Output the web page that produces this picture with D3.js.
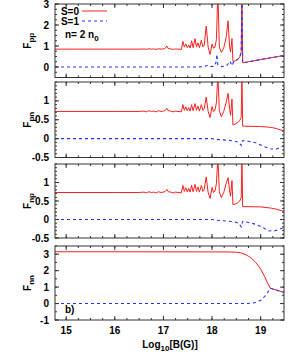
<!DOCTYPE html>
<html>
<head>
<meta charset="utf-8">
<script src="https://d3js.org/d3.v7.min.js"></script>
<style>
  body { margin: 0; background: #fff; }
  text { font-family: "Liberation Sans", Arial, sans-serif; font-weight: bold; font-size: 10px; fill: #000; }
</style>
</head>
<body>
<div id="chart"></div>
<script>

// ---- data ----
var xDomain = [14.77, 19.48];
var xTicks = [15, 16, 17, 18, 19];

// F_pp
var ppDomain = [-0.5, 3];
var ppTicks = [0, 1, 2, 3];
var ppS0 = [[14.77,0.85],[16.0,0.85],[16.5,0.85],[16.6,0.86],[16.65,0.84],[16.7,0.87],[16.75,0.85],[16.8,0.86],[16.85,0.84],[16.9,0.87],
  [16.95,0.85],[17.0,0.86],[17.04,0.9],[17.07,1.0],[17.1,0.88],[17.15,0.86],[17.2,0.84],[17.25,0.86],[17.3,0.85],[17.37,0.84],
  [17.4,1.22],[17.43,0.95],[17.46,1.1],[17.49,0.92],[17.52,1.05],[17.55,0.9],[17.58,1.25],[17.61,0.92],[17.65,1.35],[17.68,0.95],
  [17.71,1.15],[17.74,0.92],[17.78,1.28],[17.81,0.95],[17.84,1.05],[17.88,1.95],[17.92,0.95],[17.96,0.6],[18.0,1.1],[18.03,0.9],
  [18.06,0.95],[18.09,1.3],[18.12,3.6],[18.15,0.95],[18.19,0.7],[18.24,0.9],[18.29,1.4],[18.33,2.2],[18.36,1.0],[18.38,0.72],
  [18.41,1.35],[18.43,0.26],[18.48,0.3],[18.53,0.36],[18.57,0.48],[18.6,0.7],[18.615,3.6],[18.63,0.2],[19.48,0.55]];
var ppS1 = [[14.77,0],[17.7,0],[17.85,0.02],[17.9,0.08],[17.94,0.02],[18.04,0.03],[18.08,0.2],[18.1,0.6],[18.12,0.1],[18.2,0.02],
  [18.3,0.06],[18.37,0.28],[18.41,0.06],[18.45,0.27],[18.48,0.3],[18.53,0.36],[18.57,0.48],[18.6,0.7],[18.615,3.6],[18.63,0.2],[19.48,0.55]];

// F_pn
var pnDomain = [-0.5, 1.5];
var pnTicks = [-0.5, 0, 0.5, 1];
var pnS0 = [[14.77,0.72],[16.0,0.72],[16.5,0.72],[16.6,0.73],[16.65,0.71],[16.7,0.74],[16.75,0.72],[16.8,0.73],[16.85,0.71],[16.9,0.74],
  [16.95,0.72],[17.0,0.73],[17.04,0.75],[17.07,0.8],[17.1,0.74],[17.15,0.73],[17.2,0.71],[17.25,0.73],[17.3,0.72],[17.37,0.71],
  [17.4,0.9],[17.43,0.75],[17.46,0.84],[17.49,0.74],[17.52,0.82],[17.55,0.73],[17.58,0.9],[17.61,0.74],[17.65,0.93],[17.68,0.75],
  [17.71,0.86],[17.74,0.73],[17.78,0.9],[17.81,0.75],[17.84,0.8],[17.88,1.1],[17.92,0.72],[17.96,0.56],[18.0,0.85],[18.03,0.72],
  [18.06,0.76],[18.09,0.95],[18.12,1.7],[18.15,0.74],[18.19,0.58],[18.24,0.72],[18.29,0.95],[18.33,1.2],[18.36,0.8],[18.38,0.62],
  [18.41,1.05],[18.43,0.36],[18.48,0.39],[18.53,0.43],[18.57,0.48],[18.6,0.56],[18.615,1.7],[18.63,0.33],[19.0,0.32],[19.2,0.3],
  [19.32,0.27],[19.48,0.2]];
var pnS1 = [[14.77,0],[18.0,0],[18.1,-0.02],[18.3,-0.04],[18.45,-0.06],[18.55,-0.1],[18.6,-0.18],[18.63,-0.05],[18.75,-0.07],
  [18.9,-0.11],[19.05,-0.2],[19.2,-0.27],[19.32,-0.28],[19.48,-0.18]];

// F_np
var npDomain = [-0.5, 1.5];
var npTicks = [-0.5, 0, 0.5, 1];
var npS0 = [[14.77,0.73],[16.0,0.73],[16.5,0.73],[16.6,0.74],[16.65,0.72],[16.7,0.75],[16.75,0.73],[16.8,0.74],[16.85,0.72],[16.9,0.75],
  [16.95,0.73],[17.0,0.74],[17.04,0.76],[17.07,0.81],[17.1,0.75],[17.15,0.74],[17.2,0.72],[17.25,0.74],[17.3,0.73],[17.37,0.72],
  [17.4,0.92],[17.43,0.76],[17.46,0.86],[17.49,0.75],[17.52,0.84],[17.55,0.74],[17.58,0.92],[17.61,0.75],[17.65,0.95],[17.68,0.76],
  [17.71,0.88],[17.74,0.74],[17.78,0.92],[17.81,0.76],[17.84,0.82],[17.88,1.15],[17.92,0.73],[17.96,0.57],[18.0,0.87],[18.03,0.73],
  [18.06,0.77],[18.09,0.97],[18.12,1.7],[18.15,0.75],[18.19,0.59],[18.24,0.73],[18.29,0.97],[18.33,1.13],[18.36,0.8],[18.38,0.63],
  [18.41,1.05],[18.43,0.4],[18.48,0.42],[18.53,0.45],[18.57,0.5],[18.6,0.58],[18.615,1.7],[18.63,0.35],[19.0,0.34],[19.2,0.31],
  [19.32,0.28],[19.48,0.22]];
var npS1 = [[14.77,0],[18.0,0],[18.1,-0.02],[18.3,-0.04],[18.45,-0.06],[18.55,-0.1],[18.6,-0.2],[18.63,-0.05],[18.75,-0.08],
  [18.9,-0.13],[19.05,-0.22],[19.16,-0.31],[19.3,-0.3],[19.48,-0.22]];

// F_nn
var nnDomain = [-1, 3.5];
var nnTicks = [-1, 0, 1, 2, 3];
var nnS0 = [[14.77,3.15],[18.3,3.14],[18.5,3.12],[18.6,3.08],[18.7,2.97],[18.8,2.78],[18.9,2.5],[19.0,2.1],[19.08,1.65],
  [19.14,1.25],[19.2,0.93],[19.48,0.68]];
var nnS1 = [[14.77,0],[18.7,0],[18.8,0.02],[18.9,0.06],[19.0,0.2],[19.08,0.42],[19.14,0.65],[19.18,0.85],[19.2,0.93],[19.48,0.68]];

// ---- layout ----
var w = 300, h = 357;
var left = 55, right = 284;

var panels = [
  {top: 4,   bottom: 77.5,  dom: ppDomain, ticks: ppTicks, minor: 0.25, s0: ppS0, s1: ppS1, sub: "pp"},
  {top: 82,  bottom: 157.5, dom: pnDomain, ticks: pnTicks, minor: 0.1,  s0: pnS0, s1: pnS1, sub: "pn"},
  {top: 164, bottom: 238,   dom: npDomain, ticks: npTicks, minor: 0.1,  s0: npS0, s1: npS1, sub: "np"},
  {top: 246, bottom: 320,   dom: nnDomain, ticks: nnTicks, minor: 0.5,  s0: nnS0, s1: nnS1, sub: "nn"}
];

var x = d3.scaleLinear().domain(xDomain).range([left, right]);
var xMinor = d3.range(15, 19.5, 0.25).filter(function(v){ return v > xDomain[0] && v < xDomain[1]; });

var svg = d3.select("#chart").append("svg")
    .attr("width", w)
    .attr("height", h);

var red = "#ff2020", blue = "#2236ff", frame = "#333";

panels.forEach(function(p, i) {
  var y = d3.scaleLinear().domain(p.dom).range([p.bottom, p.top]);
  var g = svg.append("g");

  g.append("clipPath").attr("id", "clip" + i)
    .append("rect")
      .attr("x", left).attr("y", p.top)
      .attr("width", right - left).attr("height", p.bottom - p.top);

  var line = d3.line()
      .x(function(d){ return x(d[0]); })
      .y(function(d){ return y(d[1]); });

  var lines = g.append("g").attr("clip-path", "url(#clip" + i + ")");
  lines.append("path")
      .attr("d", line(p.s0))
      .attr("fill", "none").attr("stroke", red).attr("stroke-width", 1);
  lines.append("path")
      .attr("d", line(p.s1))
      .attr("fill", "none").attr("stroke", blue).attr("stroke-width", 1.1)
      .attr("stroke-dasharray", "3,3");

  // ticks (inward, mirrored)
  var tk = g.append("g").attr("stroke", frame).attr("stroke-width", 1);
  xTicks.forEach(function(v){
    tk.append("line").attr("x1", x(v)).attr("x2", x(v)).attr("y1", p.bottom).attr("y2", p.bottom - 4);
    tk.append("line").attr("x1", x(v)).attr("x2", x(v)).attr("y1", p.top).attr("y2", p.top + 4);
  });
  xMinor.forEach(function(v){
    tk.append("line").attr("x1", x(v)).attr("x2", x(v)).attr("y1", p.bottom).attr("y2", p.bottom - 2);
    tk.append("line").attr("x1", x(v)).attr("x2", x(v)).attr("y1", p.top).attr("y2", p.top + 2);
  });
  d3.range(p.dom[0], p.dom[1] + 1e-9, p.minor).forEach(function(v){
    tk.append("line").attr("x1", left).attr("x2", left + 2).attr("y1", y(v)).attr("y2", y(v));
    tk.append("line").attr("x1", right).attr("x2", right - 2).attr("y1", y(v)).attr("y2", y(v));
  });
  p.ticks.forEach(function(v){
    tk.append("line").attr("x1", left).attr("x2", left + 4).attr("y1", y(v)).attr("y2", y(v));
    tk.append("line").attr("x1", right).attr("x2", right - 4).attr("y1", y(v)).attr("y2", y(v));
  });

  g.append("rect")
      .attr("x", left).attr("y", p.top)
      .attr("width", right - left).attr("height", p.bottom - p.top)
      .attr("fill", "none").attr("stroke", frame).attr("stroke-width", 1);

  g.selectAll("text.yt")
    .data(p.ticks)
    .enter().append("text")
      .attr("class", "yt")
      .attr("x", 49)
      .attr("y", function(d){ return y(d) + 3.5; })
      .attr("text-anchor", "end")
      .text(function(d){ return String(d); });

  var lab = g.append("text")
      .attr("transform", "translate(31," + ((p.top + p.bottom) / 2) + ") rotate(-90)")
      .attr("text-anchor", "middle");
  lab.append("tspan").text("F");
  lab.append("tspan").attr("dy", 3).attr("font-size", "8px").text(p.sub);
});

// x tick labels
svg.selectAll("text.xt")
  .data(xTicks)
  .enter().append("text")
    .attr("class", "xt")
    .attr("x", function(d){ return x(d); })
    .attr("y", 334)
    .attr("text-anchor", "middle")
    .text(function(d){ return d; });

var xl = svg.append("text").attr("x", 170).attr("y", 348).attr("text-anchor", "middle");
xl.append("tspan").text("Log");
xl.append("tspan").attr("dy", 3).attr("font-size", "8px").text("10");
xl.append("tspan").attr("dy", -3).text("[B(G)]");

// legend
svg.append("text").attr("x", 79).attr("y", 14.5).attr("text-anchor", "end").text("S=0");
svg.append("line").attr("x1", 82).attr("x2", 107).attr("y1", 11).attr("y2", 11)
    .attr("stroke", red).attr("stroke-width", 1);
svg.append("text").attr("x", 79).attr("y", 24.5).attr("text-anchor", "end").text("S=1");
svg.append("line").attr("x1", 82).attr("x2", 107).attr("y1", 21).attr("y2", 21)
    .attr("stroke", blue).attr("stroke-width", 1.1).attr("stroke-dasharray", "3,3");

var nt = svg.append("text").attr("x", 65).attr("y", 38);
nt.append("tspan").text("n= 2 n");
nt.append("tspan").attr("dy", 3).attr("font-size", "8px").text("0");

svg.append("text").attr("x", 65).attr("y", 313).text("b)");

</script>
</body>
</html>
